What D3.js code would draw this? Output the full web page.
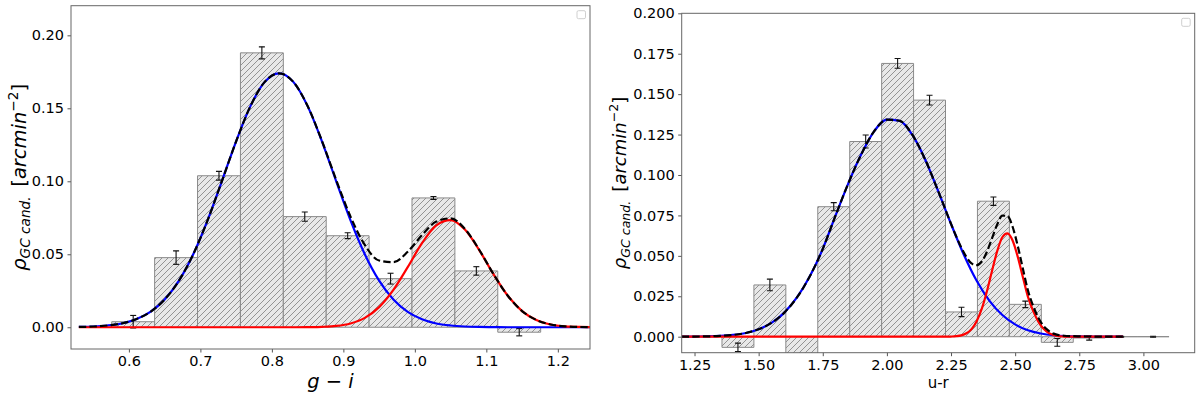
<!DOCTYPE html>
<html>
<head>
<meta charset="utf-8">
<script src="https://cdn.jsdelivr.net/npm/d3@7"></script>
<style>
  body { margin: 0; background: #fff; }
  text { font-family: "DejaVu Sans", sans-serif; }
</style>
</head>
<body>
<script>
// ---- left panel data (g - i) ----
var leftEdges = [0.576, 0.636, 0.696, 0.756, 0.816, 0.876, 0.936, 0.996, 1.056, 1.116, 1.176];
var leftValues = [0.0038, 0.0477, 0.1038, 0.1880, 0.0758, 0.0627, 0.0333, 0.0886, 0.0386, -0.0034];
var leftErr = [0.0043, 0.0046, 0.0030, 0.0041, 0.0032, 0.0020, 0.0037, 0.0010, 0.0029, 0.0025];
var leftXTicks = [0.6, 0.7, 0.8, 0.9, 1.0, 1.1, 1.2];
var leftYTicks = [0.00, 0.05, 0.10, 0.15, 0.20];

var leftCurveX = [0.53, 0.55, 0.57, 0.59, 0.61, 0.63, 0.65, 0.67, 0.69, 0.71, 0.73, 0.75, 0.77, 0.79, 0.81,
    0.83, 0.85, 0.87, 0.89, 0.91, 0.93, 0.95, 0.97, 0.99, 1.01, 1.03, 1.05, 1.07, 1.09,
    1.11, 1.13, 1.15, 1.17, 1.19, 1.21, 1.23, 1.25];
var leftBlue = [0.0002, 0.0005, 0.0012, 0.0026, 0.0055, 0.0105, 0.0190, 0.0319, 0.0500, 0.0732, 0.1000, 0.1274, 0.1515, 0.1681, 0.1740,
    0.1681, 0.1515, 0.1274, 0.1000, 0.0732, 0.0500, 0.0319, 0.0190, 0.0105, 0.0055, 0.0026, 0.0012, 0.0005, 0.0002,
    0.0001, 0, 0, 0, 0, 0, 0, 0];
var leftRed = [0, 0, 0, 0, 0, 0, 0, 0, 0, 0, 0, 0, 0, 0, 0,
    0, 0.0001, 0.0003, 0.0009, 0.0026, 0.0064, 0.0138, 0.0256, 0.0412, 0.0576, 0.0698, 0.0734, 0.0669, 0.0529,
    0.0363, 0.0216, 0.0111, 0.0050, 0.0019, 0.0006, 0.0002, 0.0001];

// ---- right panel data (u - r) ----
var rightEdges = [1.357, 1.4815, 1.606, 1.7305, 1.855, 1.9795, 2.104, 2.2285, 2.353, 2.4775, 2.602, 2.7265, 2.851, 2.9755, 3.100];
var rightValues = [-0.0066, 0.0320, -0.0150, 0.0804, 0.1207, 0.1690, 0.1463, 0.0153, 0.0838, 0.0200, -0.0035, -0.0008, 0.0000, 0.0000];
var rightErr = [0.0026, 0.0036, 0.0030, 0.0025, 0.0040, 0.0030, 0.0030, 0.0029, 0.0026, 0.0020, 0.0024, 0.0013, 0.0003, 0.0003];
var rightXTicks = [1.25, 1.50, 1.75, 2.00, 2.25, 2.50, 2.75, 3.00];
var rightYTicks = [0.000, 0.025, 0.050, 0.075, 0.100, 0.125, 0.150, 0.175, 0.200];

var rightBlueX = [1.20, 1.25, 1.30, 1.35, 1.40, 1.45, 1.50, 1.55, 1.60, 1.65, 1.70, 1.75, 1.80, 1.85, 1.90, 1.95, 2.00,
    2.05, 2.10, 2.15, 2.20, 2.25, 2.30, 2.35, 2.40, 2.45, 2.50, 2.55, 2.60, 2.65, 2.70, 2.75, 2.80, 2.85, 2.92];
var rightBlue = [0, 0.0001, 0.0002, 0.0005, 0.0011, 0.0023, 0.0046, 0.0085, 0.0149, 0.0244, 0.0375, 0.0543, 0.0750, 0.0950, 0.1128, 0.1270, 0.1343,
    0.1335, 0.1246, 0.1093, 0.0900, 0.0697, 0.0507, 0.0346, 0.0222, 0.0134, 0.0076, 0.0040, 0.0020, 0.0009, 0.0004, 0.0002, 0.0001, 0, 0];
var rightRedX = [1.20, 2.23, 2.25, 2.27, 2.29, 2.31, 2.33, 2.35, 2.37, 2.39, 2.41, 2.43, 2.45, 2.47, 2.49, 2.51, 2.53, 2.55,
    2.57, 2.59, 2.61, 2.63, 2.65, 2.67, 2.69, 2.71, 2.92];
var rightRed = [0, 0, 0.0001, 0.0003, 0.0008, 0.0021, 0.0047, 0.0096, 0.0173, 0.0281, 0.0408, 0.0529, 0.0615, 0.0639, 0.0595, 0.0495, 0.0369, 0.0246,
    0.0160, 0.0095, 0.0050, 0.0024, 0.0010, 0.0003, 0.0001, 0, 0];
var rightTotalX = [1.20, 1.25, 1.30, 1.35, 1.40, 1.45, 1.50, 1.55, 1.60, 1.65, 1.70, 1.75, 1.80, 1.85, 1.90, 1.95, 2.00, 2.05, 2.10, 2.15, 2.20,
    2.25, 2.27, 2.29, 2.31, 2.33, 2.35, 2.37, 2.39, 2.41, 2.43, 2.45, 2.47, 2.49, 2.51, 2.53, 2.55, 2.57, 2.59, 2.61, 2.63, 2.65, 2.67, 2.69,
    2.75, 2.80, 2.85, 2.92];
var rightTotal = [0, 0.0001, 0.0002, 0.0005, 0.0011, 0.0023, 0.0046, 0.0085, 0.0149, 0.0244, 0.0375, 0.0543, 0.0750, 0.0950, 0.1128, 0.1270, 0.1343, 0.1335, 0.1246, 0.1093, 0.0900,
    0.0698, 0.0621, 0.0551, 0.0493, 0.0453, 0.0442, 0.0465, 0.0525, 0.0610, 0.0694, 0.0749, 0.0746, 0.0680, 0.0562, 0.0421, 0.0286, 0.0191, 0.0118, 0.0067, 0.0037, 0.0019, 0.0010, 0.0006,
    0.0002, 0.0001, 0, 0];

var svg = d3.select("body").append("svg")
    .attr("width", 1200)
    .attr("height", 398);

var defs = svg.append("defs");
var pat = defs.append("pattern")
    .attr("id", "hatch")
    .attr("patternUnits", "userSpaceOnUse")
    .attr("width", 6)
    .attr("height", 6);
pat.append("rect").attr("width", 6).attr("height", 6).attr("fill", "#e8e8e8");
pat.append("path")
    .attr("d", "M0,6 L6,0 M-1,1 L1,-1 M5,7 L7,5")
    .attr("stroke", "#6e6e6e")
    .attr("stroke-width", 0.7);

function zip(xs, ys) {
    return xs.map(function(v, i) { return {x: v, y: ys[i]}; });
}

function drawPanel(p) {
    var x = d3.scaleLinear().domain(p.xDomain).range([p.left, p.right]);
    var y = d3.scaleLinear().domain(p.yDomain).range([p.bottom, p.top]);
    var g = svg.append("g");

    defs.append("clipPath").attr("id", p.id + "clip")
        .append("rect")
        .attr("x", p.left).attr("y", p.top)
        .attr("width", p.right - p.left).attr("height", p.bottom - p.top);

    var plot = g.append("g").attr("clip-path", "url(#" + p.id + "clip)");

    // histogram bars (paths so that empty bins still show their edge)
    var bars = p.values.map(function(v, i) {
        return {x0: p.edges[i], x1: p.edges[i + 1], v: v, e: p.err[i]};
    });
    plot.selectAll("path.bar")
        .data(bars)
        .enter()
        .append("path")
        .attr("class", "bar")
        .attr("d", function(d) {
            var a = x(d.x0), b = x(d.x1), y0 = y(0), y1 = y(d.v);
            return "M" + a + "," + y0 + "L" + a + "," + y1 + "L" + b + "," + y1 + "L" + b + "," + y0 + "Z";
        })
        .attr("fill", "url(#hatch)")
        .attr("stroke", "#8a8a8a")
        .attr("stroke-width", 1);

    // error bars
    var eb = plot.selectAll("g.err")
        .data(bars)
        .enter()
        .append("g")
        .attr("stroke", "#111")
        .attr("stroke-width", 1.1);
    eb.append("line")
        .attr("x1", function(d) { return x((d.x0 + d.x1) / 2); })
        .attr("x2", function(d) { return x((d.x0 + d.x1) / 2); })
        .attr("y1", function(d) { return y(d.v - d.e); })
        .attr("y2", function(d) { return y(d.v + d.e); });
    [-1, 1].forEach(function(s) {
        eb.append("line")
            .attr("x1", function(d) { return x((d.x0 + d.x1) / 2) - 3; })
            .attr("x2", function(d) { return x((d.x0 + d.x1) / 2) + 3; })
            .attr("y1", function(d) { return y(d.v + s * d.e); })
            .attr("y2", function(d) { return y(d.v + s * d.e); });
    });

    var line = d3.line()
        .x(function(d) { return x(d.x); })
        .y(function(d) { return y(d.y); })
        .curve(d3.curveMonotoneX);

    plot.append("path").datum(p.blue)
        .attr("fill", "none").attr("stroke", "#0000ff").attr("stroke-width", 2.2)
        .attr("d", line);
    plot.append("path").datum(p.red)
        .attr("fill", "none").attr("stroke", "#ff0000").attr("stroke-width", 2.2)
        .attr("d", line);
    plot.append("path").datum(p.total)
        .attr("fill", "none").attr("stroke", "#000").attr("stroke-width", 2.2)
        .attr("stroke-dasharray", "7.4,3.2")
        .attr("d", line);

    // axes
    var xa = g.append("g")
        .attr("transform", "translate(0," + p.bottom + ")")
        .call(d3.axisBottom(x).tickValues(p.xTicks).tickFormat(d3.format(p.xFmt)).tickSize(3.5).tickPadding(3.5));
    var ya = g.append("g")
        .attr("transform", "translate(" + p.left + ",0)")
        .call(d3.axisLeft(y).tickValues(p.yTicks).tickFormat(d3.format(p.yFmt)).tickSize(3.5).tickPadding(3.5));
    [xa, ya].forEach(function(a) {
        a.select(".domain").remove();
        a.selectAll(".tick line").attr("stroke", "#555");
        a.selectAll(".tick text")
            .attr("font-family", "DejaVu Sans")
            .attr("font-size", 14.5)
            .attr("fill", "#000");
    });

    g.append("rect")
        .attr("x", p.left).attr("y", p.top)
        .attr("width", p.right - p.left).attr("height", p.bottom - p.top)
        .attr("fill", "none").attr("stroke", "#666").attr("stroke-width", 1);

    // empty legend frame
    g.append("rect")
        .attr("x", p.right - 13).attr("y", p.top + 5)
        .attr("width", 8.5).attr("height", 8)
        .attr("rx", 1.5)
        .attr("fill", "#fff").attr("stroke", "#cfcfcf").attr("stroke-width", 1);

    // y label
    var F = p.yLabelSize;
    var yl = g.append("text")
        .attr("transform", "translate(" + p.yLabelX + "," + ((p.top + p.bottom) / 2) + ") rotate(-90)")
        .attr("text-anchor", "middle")
        .attr("font-size", F)
        .attr("fill", "#000");
    yl.append("tspan").attr("font-style", "italic").text("ρ");
    yl.append("tspan").attr("font-style", "italic").attr("font-size", F * 0.7).attr("dy", F * 0.22).text("GC cand.");
    yl.append("tspan").attr("dy", -F * 0.22).text("\u2002[");
    yl.append("tspan").attr("font-style", "italic").text("arcmin");
    yl.append("tspan").attr("font-size", F * 0.7).attr("dy", -F * 0.42).text("\u2212");
    yl.append("tspan").attr("font-size", F * 0.7).text("2");
    yl.append("tspan").attr("dy", F * 0.42).text("]");

    // x label
    var xl = g.append("text")
        .attr("x", (p.left + p.right) / 2)
        .attr("y", p.xLabelY)
        .attr("text-anchor", "middle")
        .attr("font-size", p.xLabelSize)
        .attr("fill", "#000");
    p.xLabel.forEach(function(part) {
        xl.append("tspan").attr("font-style", part.italic ? "italic" : "normal").text(part.t);
    });
}

drawPanel({
    id: "left",
    left: 71, right: 590, top: 5.7, bottom: 349,
    xDomain: [0.519, 1.245], yDomain: [-0.0149, 0.2203],
    edges: leftEdges, values: leftValues, err: leftErr,
    blue: zip(leftCurveX, leftBlue),
    red: zip(leftCurveX, leftRed),
    total: leftCurveX.map(function(v, i) { return {x: v, y: leftBlue[i] + leftRed[i]}; }),
    xTicks: leftXTicks, yTicks: leftYTicks, xFmt: ".1f", yFmt: ".2f",
    yLabelX: 26, yLabelSize: 19.5,
    xLabel: [{t: "g", italic: true}, {t: " \u2212 ", italic: false}, {t: "i", italic: true}],
    xLabelY: 388, xLabelSize: 19.5
});

drawPanel({
    id: "right",
    left: 681.7, right: 1194.7, top: 13.3, bottom: 352.7,
    xDomain: [1.2, 3.2], yDomain: [-0.0099, 0.200],
    edges: rightEdges, values: rightValues, err: rightErr,
    blue: zip(rightBlueX, rightBlue),
    red: zip(rightRedX, rightRed),
    total: zip(rightTotalX, rightTotal),
    xTicks: rightXTicks, yTicks: rightYTicks, xFmt: ".2f", yFmt: ".3f",
    yLabelX: 626, yLabelSize: 18,
    xLabel: [{t: "u-r", italic: false}],
    xLabelY: 388, xLabelSize: 15
});
</script>
</body>
</html>
